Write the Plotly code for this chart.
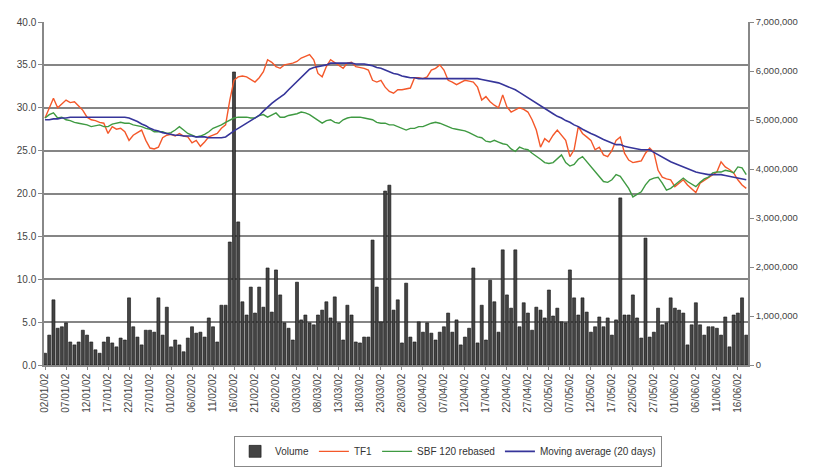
import pandas as pd
import plotly.graph_objects as go

# ---- data ----
start_date = "2002-01-02"
end_date = "2002-06-18"
dates = pd.date_range(start_date, end_date, freq="D")

tick_labels = [
    "02/01/02", "07/01/02", "12/01/02", "17/01/02", "22/01/02", "27/01/02",
    "01/02/02", "06/02/02", "11/02/02", "16/02/02", "21/02/02", "26/02/02",
    "03/03/02", "08/03/02", "13/03/02", "18/03/02", "23/03/02", "28/03/02",
    "02/04/02", "07/04/02", "12/04/02", "17/04/02", "22/04/02", "27/04/02",
    "02/05/02", "07/05/02", "12/05/02", "17/05/02", "22/05/02", "27/05/02",
    "01/06/02", "06/06/02", "11/06/02", "16/06/02",
]

volume_m = [
    0.24, 0.61, 1.33, 0.75, 0.78, 0.86, 0.47, 0.41, 0.47, 0.71,
    0.61, 0.47, 0.31, 0.24, 0.47, 0.57, 0.45, 0.37, 0.55, 0.51,
    1.37, 0.78, 0.57, 0.41, 0.71, 0.71, 0.67, 1.37, 0.61, 1.18,
    0.37, 0.51, 0.41, 0.27, 0.55, 0.78, 0.65, 0.67, 0.57, 0.96,
    0.78, 0.47, 1.22, 1.22, 2.51, 5.98, 2.92, 1.29, 1.02, 1.59,
    1.06, 1.59, 1.18, 1.98, 1.08, 1.94, 1.43, 0.86, 0.75, 0.51,
    1.69, 0.92, 1.02, 0.86, 0.82, 1.02, 1.12, 1.29, 0.96, 1.39,
    0.86, 0.51, 1.22, 1.02, 0.47, 0.45, 0.57, 0.57, 2.55, 1.59,
    0.88, 3.55, 3.67, 1.12, 1.33, 0.45, 1.67, 0.57, 0.47, 0.88,
    0.67, 0.86, 0.65, 0.51, 0.67, 0.78, 1.06, 0.67, 0.92, 0.41,
    0.57, 0.75, 1.98, 0.45, 1.22, 0.51, 1.73, 1.29, 0.67, 2.35,
    1.43, 1.16, 2.35, 0.78, 1.27, 1.06, 0.71, 1.18, 1.12, 0.96,
    1.53, 1.00, 1.16, 0.88, 0.86, 1.94, 1.37, 1.02, 1.37, 1.08,
    0.67, 0.78, 0.98, 0.78, 0.96, 0.61, 0.92, 3.41, 1.02, 1.02,
    1.43, 0.96, 0.55, 2.59, 0.57, 0.67, 1.16, 0.82, 0.86, 1.37,
    1.16, 1.12, 1.06, 0.41, 0.82, 1.27, 0.82, 0.61, 0.78, 0.78,
    0.75, 0.61, 0.98, 0.37, 1.02, 1.06, 1.37, 0.61,
]
volume = [v * 1_000_000 for v in volume_m]

tf1 = [
    28.8, 30.0, 31.1, 30.0, 30.5, 30.9, 30.6, 30.7, 30.2, 29.7,
    28.9, 28.6, 28.5, 28.3, 28.2, 27.0, 27.8, 27.5, 27.6, 27.2,
    26.2, 26.8, 27.1, 27.4, 26.2, 25.3, 25.2, 25.4, 26.5, 26.8,
    26.9, 26.7, 27.0, 26.7, 26.6, 25.9, 26.2, 25.5, 26.0, 26.6,
    26.8, 27.0, 27.6, 28.0, 30.9, 33.2, 33.6, 33.7, 33.6, 33.3,
    33.0, 33.5, 34.2, 35.6, 35.3, 34.8, 34.6, 35.0, 35.1, 35.2,
    35.4, 35.8, 36.0, 36.2, 35.6, 34.0, 33.6, 34.8, 35.6, 35.3,
    34.9, 34.6, 35.2, 35.3, 34.8, 34.7, 34.6, 34.4, 33.2, 33.0,
    33.2, 32.4, 31.9, 31.7, 32.1, 32.1, 32.2, 32.3, 33.5, 33.5,
    33.4, 33.6, 34.4, 34.6, 35.0, 34.4, 33.2, 33.0, 32.7, 33.0,
    33.2, 33.1, 33.0, 32.4, 30.9, 31.3, 30.7, 30.3, 30.0, 31.5,
    30.1, 29.5, 29.8, 30.0, 29.8, 29.5, 28.6, 27.4, 25.4, 26.4,
    26.0, 26.8, 27.4, 26.8, 26.2, 24.3, 25.1, 27.8, 27.0, 26.6,
    26.2, 25.1, 25.4, 24.5, 24.3, 25.0, 26.2, 26.6, 24.7, 23.9,
    23.6, 23.7, 23.8, 24.7, 25.3, 24.8, 22.7, 21.9, 21.7, 21.6,
    20.8, 21.2, 21.6, 21.0, 20.5, 20.1, 21.2, 21.5, 21.8, 22.2,
    22.5, 23.7, 23.1, 22.8, 22.4, 21.6, 21.0, 20.6,
]

sbf120_rebased = [
    28.8, 29.2, 29.4, 28.8, 28.9, 28.6, 28.5, 28.3, 28.2, 28.1,
    28.0, 27.8, 27.9, 28.0, 27.8, 27.8, 28.1, 28.2, 28.3, 28.2,
    28.2, 28.0, 27.9, 27.8, 27.6, 27.5, 27.2, 27.2, 27.2, 27.0,
    27.1, 27.4, 27.8, 27.4, 27.0, 26.8, 26.6, 26.7, 26.9, 27.2,
    27.6, 27.8, 28.0, 28.3, 28.6, 28.8, 28.9, 28.9, 28.9, 28.8,
    28.8, 29.1, 29.2, 28.9, 29.2, 29.4, 28.9, 28.9, 29.1, 29.2,
    29.3, 29.5, 29.4, 29.2, 28.9, 28.6, 28.2, 28.5, 28.6, 28.3,
    28.2, 28.6, 28.8, 28.9, 28.9, 28.9, 28.8, 28.7, 28.6, 28.3,
    28.2, 28.2, 28.0, 28.0, 27.8, 27.6, 27.4, 27.6, 27.6, 27.8,
    27.8, 28.0, 28.2, 28.3, 28.2, 28.0, 27.8, 27.6, 27.5, 27.4,
    27.3, 27.1, 26.8, 26.6, 26.5, 26.1, 26.0, 26.2, 26.0, 25.8,
    25.7, 25.2, 24.9, 25.4, 25.2, 25.1, 24.7, 24.4, 24.0, 23.6,
    23.5, 23.6, 24.0, 24.5, 23.6, 23.2, 23.4, 24.0, 24.3, 23.7,
    23.2, 22.6, 22.0, 21.4, 21.3, 21.6, 22.2, 22.0, 21.3, 20.6,
    19.6, 19.9, 20.2, 21.0, 21.6, 21.8, 21.9, 21.2, 20.4, 20.6,
    21.0, 21.4, 21.8, 21.4, 21.1, 20.8, 21.3, 21.7, 21.9, 22.4,
    22.5, 22.5, 22.7, 22.6, 22.4, 23.1, 23.0, 22.2,
]

moving_avg_20 = [
    28.6, 28.6, 28.7, 28.7, 28.8, 28.8, 28.9, 28.9, 28.9, 28.9,
    28.9, 28.9, 28.9, 28.9, 28.9, 28.9, 28.9, 28.9, 28.9, 28.9,
    28.8, 28.6, 28.4, 28.1, 27.9, 27.6, 27.4, 27.3, 27.1, 27.0,
    26.9, 26.8, 26.8, 26.7, 26.7, 26.7, 26.6, 26.6, 26.6, 26.5,
    26.5, 26.5, 26.5, 26.6, 27.0, 27.3, 27.6, 27.9, 28.3, 28.5,
    28.8, 29.1, 29.6, 30.1, 30.5, 30.9, 31.2, 31.6, 32.1, 32.6,
    33.1, 33.6, 34.0, 34.5, 34.7, 34.8, 34.9, 35.0, 35.2, 35.2,
    35.2, 35.2, 35.2, 35.2, 35.1, 35.1, 35.1, 35.0, 34.9, 34.7,
    34.6, 34.4, 34.2, 34.0, 33.9, 33.7, 33.6, 33.5, 33.5, 33.4,
    33.4, 33.4, 33.4, 33.4, 33.4, 33.4, 33.4, 33.4, 33.4, 33.4,
    33.4, 33.4, 33.4, 33.4, 33.3, 33.2, 33.1, 33.0, 32.9, 32.7,
    32.5, 32.3, 32.1, 31.8, 31.5, 31.2, 30.9, 30.6, 30.2, 29.9,
    29.6, 29.3, 29.0, 28.8, 28.5, 28.3, 28.0, 27.8, 27.5, 27.2,
    27.0, 26.8, 26.5, 26.3, 26.1, 25.9, 25.7, 25.7, 25.5, 25.4,
    25.3, 25.2, 25.1, 25.1, 25.1, 24.8, 24.5, 24.2, 23.9, 23.7,
    23.5, 23.3, 23.1, 22.9, 22.7, 22.5, 22.4, 22.3, 22.2, 22.2,
    22.2, 22.2, 22.1, 22.0, 21.9, 21.8, 21.7, 21.6,
]

left_ticks = [0, 5, 10, 15, 20, 25, 30, 35, 40]
right_ticks = [0, 1_000_000, 2_000_000, 3_000_000, 4_000_000, 5_000_000, 6_000_000, 7_000_000]

# ---- figure ----
tick_dates = pd.to_datetime(tick_labels, format="%d/%m/%y")
day_ms = 86400000

fig = go.Figure()
fig.add_trace(go.Bar(
    x=dates, y=volume, name="Volume", yaxis="y",
    marker=dict(color="#444444", line=dict(color="#111111", width=0.6)),
    width=0.72 * day_ms,
))
fig.add_trace(go.Scatter(
    x=dates, y=tf1, name="TF1", yaxis="y2", mode="lines",
    line=dict(color="#f4582a", width=1.4),
))
fig.add_trace(go.Scatter(
    x=dates, y=sbf120_rebased, name="SBF 120 rebased", yaxis="y2", mode="lines",
    line=dict(color="#3f9a42", width=1.4),
))
fig.add_trace(go.Scatter(
    x=dates, y=moving_avg_20, name="Moving average (20 days)", yaxis="y2", mode="lines",
    line=dict(color="#36359a", width=1.6),
))

tickfont = dict(family="Liberation Sans, Arial, sans-serif", size=10, color="#444444")

x_start = pd.Timestamp(start_date) - pd.Timedelta(hours=6)
x_end = pd.Timestamp(end_date) + pd.Timedelta(hours=10)

fig.update_layout(
    width=813, height=468,
    margin=dict(l=36, r=73, t=14, b=111, autoexpand=False),
    paper_bgcolor="white", plot_bgcolor="white",
    showlegend=True,
    bargap=0.25,
    xaxis=dict(
        type="date", range=[x_start, x_end], automargin=False,
        tickmode="array", tickvals=tick_dates, ticktext=tick_labels,
        tickangle=-90, tickfont=tickfont,
        ticks="outside", ticklen=3, tickcolor="#888888",
        showline=True, linecolor="#888888", linewidth=1.5,
        showgrid=False, zeroline=False,
    ),
    yaxis=dict(
        side="right", range=[0, 7_000_000], automargin=False,
        tickmode="array", tickvals=right_ticks,
        tickformat=",", tickfont=dict(family="Liberation Sans, Arial, sans-serif", size=9.5, color="#444444"),
        ticks="outside", ticklen=4, tickcolor="#888888",
        showline=True, linecolor="#888888", linewidth=1.5,
        showgrid=False, zeroline=False,
    ),
    yaxis2=dict(
        side="left", overlaying="y", range=[0, 40], automargin=False,
        tickmode="array", tickvals=left_ticks,
        tickformat=".1f", tickfont=tickfont,
        ticks="outside", ticklen=4, tickcolor="#888888",
        showline=True, linecolor="#888888", linewidth=1.5,
        showgrid=True, gridcolor="#858585", gridwidth=1.6,
        zeroline=False,
    ),
    legend=dict(
        orientation="h", x=0.574, xanchor="center", y=-0.297, yanchor="bottom",
        font=dict(family="Liberation Sans, Arial, sans-serif", size=10, color="#333333"),
        bordercolor="#888888", borderwidth=1, bgcolor="white",
        itemwidth=30, traceorder="normal",
        tracegroupgap=0,
    ),
)

fig.write_html("out.html")
